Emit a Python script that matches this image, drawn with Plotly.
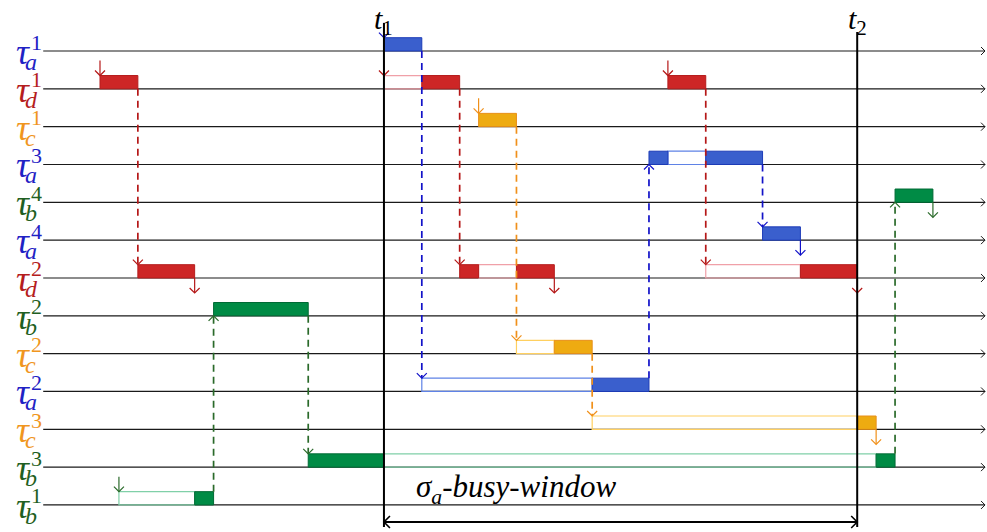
# Busy-window schedule diagram: task rows, executions, waits and links
import plotly.graph_objects as go

# Rows from top to bottom: task letter and job index
ROW_TASKS = ["a", "d", "c", "a", "b", "a", "d", "b", "c", "a", "c", "b", "b"]
ROW_JOBS = [1, 1, 1, 3, 4, 4, 2, 2, 2, 2, 3, 3, 1]

# Executed slices: row, start, end (time units)
EXEC_ROWS = [1, 6, 12, 7, 11, 11, 0, 1, 2, 6, 6, 8, 9, 10, 3, 3, 1, 5, 6, 4]
EXEC_START = [0, 2, 5, 6, 11, 41, 15, 17, 20, 19, 22, 24, 26, 40, 29, 32, 30, 35, 37, 42]
EXEC_END = [2, 5, 6, 11, 15, 42, 17, 19, 22, 20, 24, 26, 29, 41, 30, 35, 32, 37, 40, 44]

# Waiting (released but not running): row, start, end
WAIT_ROWS = [12, 1, 6, 8, 9, 10, 3, 6, 11]
WAIT_START = [1, 15, 20, 22, 17, 26, 30, 32, 15]
WAIT_END = [5, 17, 22, 24, 26, 40, 32, 37, 41]

# Dashed activation links: from row, to row, time
LINK_FROM = [1, 12, 7, 0, 1, 2, 8, 9, 3, 1, 11]
LINK_TO = [6, 7, 11, 9, 6, 8, 10, 3, 5, 6, 4]
LINK_T = [2, 6, 11, 17, 19, 22, 26, 29, 35, 32, 42]

# Release arrows (above row) and completion arrows (below row)
REL_ROWS = [1, 12, 2, 1, 0, 1]
REL_T = [0, 1, 20, 30, 15, 15]
DONE_ROWS = [6, 6, 5, 6, 10, 4]
DONE_T = [5, 24, 37, 40, 41, 44]

# Window bounds
T1 = 15
T2 = 40

# Colours per task
_LABEL_COLOR = {"a": "#1f22c4", "d": "#b51d1d", "c": "#f0961e", "b": "#1f5f22"}
_BOX_COLOR = {"a": "#3a5fcd", "d": "#cd2626", "c": "#eeab11", "b": "#008b45"}
_BOX_EDGE = {"a": "#1d3cb8", "d": "#b51d1d", "c": "#e8901a", "b": "#006a35"}
_WAIT_COLOR = {"a": "#5f82e6", "d": "#f0a0a8", "c": "#ffd060", "b": "#80d0a8"}
_LINK_COLOR = {"a": "#1212c8", "d": "#b51818", "c": "#f0901a", "b": "#2a6a2a"}

# Pixel scale of one time unit / one row
PX_T = 18.93
PX_ROW = 37.83
BOX_H = 13.3 / PX_ROW


def dx(p):
	return p / PX_T


def dy(p):
	return p / PX_ROW


def line(x0, y0, x1, y1, color, width=1.0, dash="solid"):
	return dict(type="line", x0=x0, y0=y0, x1=x1, y1=y1, layer="above",
		line=dict(color=color, width=width, dash=dash))


# Chevron arrow head with its tip at (x, y)
def chevron(x, y, direction, color, size=5, width=1.2):
	s = size
	if direction == "down":
		path = f"M {x - dx(s)},{y - dy(s)} L {x},{y} L {x + dx(s)},{y - dy(s)}"
	elif direction == "up":
		path = f"M {x - dx(s)},{y + dy(s)} L {x},{y} L {x + dx(s)},{y + dy(s)}"
	elif direction == "right":
		path = f"M {x - dx(s)},{y - dy(s)} L {x},{y} L {x - dx(s)},{y + dy(s)}"
	else:
		path = f"M {x + dx(s)},{y - dy(s)} L {x},{y} L {x + dx(s)},{y + dy(s)}"
	return dict(type="path", path=path, layer="above", line=dict(color=color, width=width))


shapes = []
annotations = []

# Row base lines with arrow heads
x_start = -3
x_end = dx(885)
for r in range(len(ROW_TASKS)):
	shapes.append(line(x_start, r, x_end, r, "#1a1a1a", 1.2))
	shapes.append(chevron(x_end, r, "right", "#1a1a1a", 4, 1.0))

# Waiting rectangles (outline only)
for r, s, e in zip(WAIT_ROWS, WAIT_START, WAIT_END):
	c = _WAIT_COLOR[ROW_TASKS[r]]
	shapes.append(dict(type="rect", x0=s, x1=e, y0=r - BOX_H, y1=r, layer="above",
		fillcolor="rgba(0,0,0,0)", line=dict(color=c, width=1.2)))

# Execution boxes
for r, s, e in zip(EXEC_ROWS, EXEC_START, EXEC_END):
	k = ROW_TASKS[r]
	shapes.append(dict(type="rect", x0=s, x1=e, y0=r - BOX_H, y1=r, layer="above",
		fillcolor=_BOX_COLOR[k], line=dict(color=_BOX_EDGE[k], width=1.0)))

# Dashed links between jobs
for r0, r1, t in zip(LINK_FROM, LINK_TO, LINK_T):
	c = _LINK_COLOR[ROW_TASKS[r0]]
	if r1 > r0:
		shapes.append(line(t, r0, t, r1 - BOX_H, c, 1.7, "7px,5px"))
		shapes.append(chevron(t, r1 - BOX_H, "down", c))
	else:
		shapes.append(line(t, r0 - BOX_H, t, r1, c, 1.7, "7px,5px"))
		shapes.append(chevron(t, r1, "up", c))

# Release arrows
for r, t in zip(REL_ROWS, REL_T):
	c = _LINK_COLOR[ROW_TASKS[r]]
	shapes.append(line(t, r - BOX_H - dy(15), t, r - BOX_H, c, 1.2))
	shapes.append(chevron(t, r - BOX_H, "down", c))

# Completion arrows
for r, t in zip(DONE_ROWS, DONE_T):
	c = _LINK_COLOR[ROW_TASKS[r]]
	shapes.append(line(t, r, t, r + dy(15), c, 1.2))
	shapes.append(chevron(t, r + dy(15), "down", c))

# Window bounds and busy-window arrow
y_bottom = dy(527 - 51)
shapes.append(line(T1, dy(23 - 51), T1, y_bottom, "#000000", 2.0))
shapes.append(line(T2, dy(32 - 51), T2, y_bottom, "#000000", 2.0))
y_arrow = dy(522 - 51)
shapes.append(line(T1, y_arrow, T2, y_arrow, "#000000", 2.0))
shapes.append(chevron(T1, y_arrow, "left", "#000000", 6, 1.6))
shapes.append(chevron(T2, y_arrow, "right", "#000000", 6, 1.6))

# Row labels: tau with stacked sub/superscript
serif = "Liberation Serif"
for r, (k, j) in enumerate(zip(ROW_TASKS, ROW_JOBS)):
	c = _LABEL_COLOR[k]
	annotations.append(dict(x=dx(31 - 100), y=r + dy(1), text="<i>τ</i>", showarrow=False,
		font=dict(family=serif, size=36, color=c), xanchor="right", yanchor="middle",
		borderpad=0))
	annotations.append(dict(x=dx(30 - 100), y=r - dy(9), text=str(j), showarrow=False,
		font=dict(family=serif, size=22, color=c), xanchor="left", yanchor="middle",
		borderpad=0))
	annotations.append(dict(x=dx(24 - 100), y=r + dy(11), text=f"<i>{k}</i>", showarrow=False,
		font=dict(family=serif, size=24, color=c), xanchor="left", yanchor="middle",
		borderpad=0))

# Window labels
for t, name, px in [(T1, "1", 383), (T2, "2", 857)]:
	annotations.append(dict(x=dx(px - 100), y=dy(-51), text=f"<i>t</i><sub>{name}</sub>",
		showarrow=False, font=dict(family=serif, size=30, color="#000000"),
		xanchor="center", yanchor="top"))

annotations.append(dict(x=dx(516 - 100), y=dy(489 - 51), text="<i>σ<sub>a</sub>-busy-window</i>",
	showarrow=False, font=dict(family=serif, size=31, color="#000000"),
	xanchor="center", yanchor="middle"))

fig = go.Figure()
fig.update_layout(
	width=987,
	height=532,
	margin={"r": 0, "t": 0, "l": 0, "b": 0},
	paper_bgcolor="#ffffff",
	plot_bgcolor="#ffffff",
	showlegend=False,
	shapes=shapes,
	annotations=annotations,
	xaxis=dict(range=[dx(-100), dx(887)], visible=False, showgrid=False, zeroline=False),
	yaxis=dict(range=[dy(532 - 51), dy(-51)], visible=False, showgrid=False, zeroline=False),
)

fig.write_html("out.html", config={"displayModeBar": False},
	post_script="document.body.style.margin='0';")
